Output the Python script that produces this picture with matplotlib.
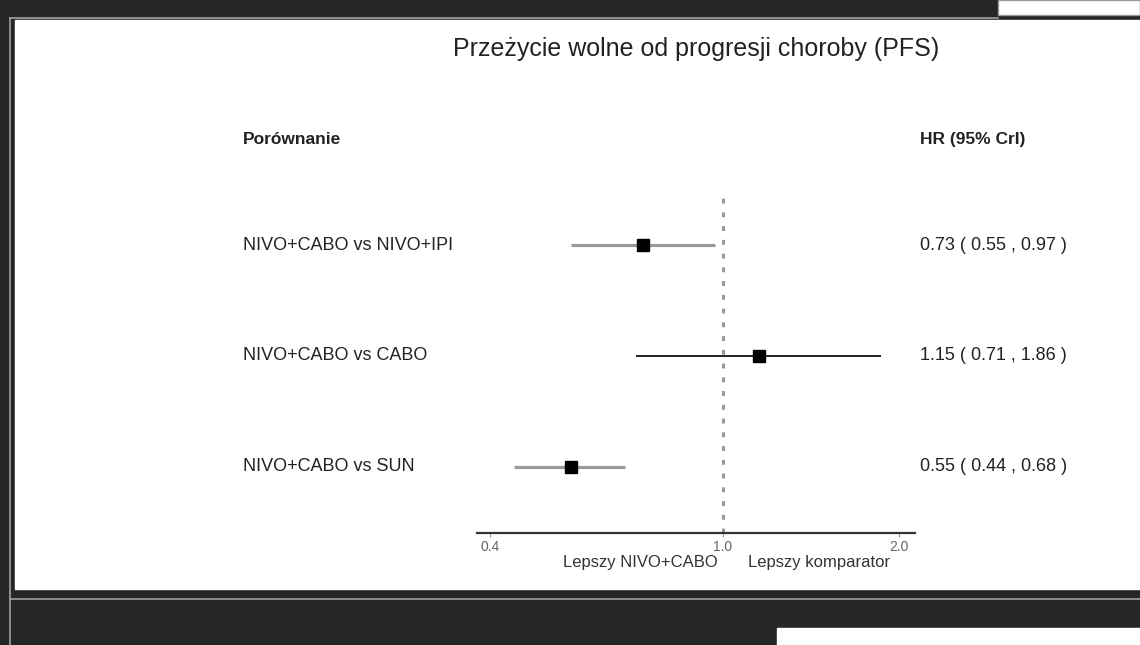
import numpy as np
import matplotlib.pyplot as plt
from matplotlib.patches import Rectangle
from matplotlib.lines import Line2D
from matplotlib.ticker import NullLocator, FixedLocator, FixedFormatter
from matplotlib.transforms import blended_transform_factory

plt.rcParams['font.family'] = ['Liberation Sans', 'DejaVu Sans']

# data
title = "Przeżycie wolne od progresji choroby (PFS)"
comparisons = ["NIVO+CABO vs NIVO+IPI", "NIVO+CABO vs CABO", "NIVO+CABO vs SUN"]
hr = [0.73, 1.15, 0.55]
lower = [0.55, 0.71, 0.44]
upper = [0.97, 1.86, 0.68]
xticks = [0.4, 1.0, 2.0]
xtick_labels = ["0.4", "1.0", "2.0"]

ci_colors = ["#9a9a9a", "#222222", "#9a9a9a"]
ci_widths = [2.3, 1.4, 2.3]

W, H = 1140, 645
fig = plt.figure(figsize=(W / 100, H / 100), dpi=100, facecolor='#262626')


def box(x0, y0, x1, y1):
    # pixel box (top-left origin) -> figure fraction rect
    return (x0 / W, 1 - y1 / H, (x1 - x0) / W, (y1 - y0) / H)


def add_rect(x0, y0, x1, y1, color, edge=None):
    l, b, w, h = box(x0, y0, x1, y1)
    fig.add_artist(Rectangle((l, b), w, h, transform=fig.transFigure,
                             facecolor=color, edgecolor=edge or color, lw=1,
                             zorder=-5))


def add_line(x0, y0, x1, y1, color='#a0a0a0', lw=1.2):
    fig.add_artist(Line2D([x0 / W, x1 / W], [1 - y0 / H, 1 - y1 / H],
                          transform=fig.transFigure, color=color, lw=lw,
                          zorder=-4))


# window frame around the screenshot
add_rect(15, 20, 1140, 589, 'white')
add_rect(998, 0, 1140, 15, 'white', '#9a9a9a')
add_rect(777, 628, 1140, 645, 'white')
add_line(10, 18, 10, 645)
add_line(10, 18, 998, 18)
add_line(10, 599, 1140, 599)

# forest plot axes
ax = fig.add_axes(box(477, 190, 915, 533))
ax.patch.set_alpha(0)
ax.set_xscale('log')
ax.set_xlim(0.3797, 2.129)
ax.set_ylim(2.6, -0.5)

rows = np.arange(len(comparisons))
ax.axvline(1.0, color='#999999', lw=2.2, linestyle=(0, (1.6, 2.9)), zorder=1)
for i in rows:
    ax.plot([lower[i], upper[i]], [i, i], color=ci_colors[i], lw=ci_widths[i],
            solid_capstyle='butt', zorder=2)
ax.plot(hr, rows, 's', color='black', ms=8.5, zorder=3)

for s in ['top', 'left', 'right']:
    ax.spines[s].set_visible(False)
ax.spines['bottom'].set_color('#333333')
ax.spines['bottom'].set_linewidth(1.6)
ax.xaxis.set_major_locator(FixedLocator(xticks))
ax.xaxis.set_major_formatter(FixedFormatter(xtick_labels))
ax.xaxis.set_minor_locator(NullLocator())
ax.tick_params(axis='x', length=3, color='#999999', labelsize=10,
               labelcolor='#666666', pad=2)
ax.set_yticks([])

# text columns
trans = blended_transform_factory(fig.transFigure, ax.transData)
for i in rows:
    ax.text(243 / W, i, comparisons[i], transform=trans, ha='left',
            va='center', fontsize=13, color='#222222')
    ax.text(920 / W, i, f"{hr[i]:.2f} ( {lower[i]:.2f} , {upper[i]:.2f} )",
            transform=trans, ha='left', va='center', fontsize=13,
            color='#222222')

fig.text(243 / W, 1 - 140 / H, "Porównanie", fontsize=12.5,
         fontweight='bold', va='center', color='#222222')
fig.text(920 / W, 1 - 140 / H, "HR (95% CrI)", fontsize=12.5,
         fontweight='bold', va='center', color='#222222')
fig.text(696 / W, 1 - 49 / H, title, ha='center', va='center',
         fontsize=18, color='#222222')

fig.text(718 / W, 1 - 562 / H, "Lepszy NIVO+CABO", ha='right', va='center',
         fontsize=12, color='#333333')
fig.text(748 / W, 1 - 562 / H, "Lepszy komparator", ha='left', va='center',
         fontsize=12, color='#333333')

fig.savefig('out.png', dpi=100, facecolor=fig.get_facecolor())
